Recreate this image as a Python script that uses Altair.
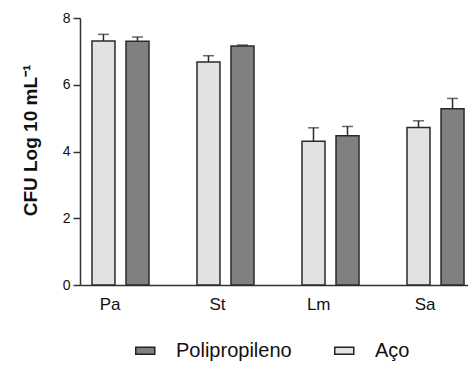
import altair as alt
import pandas as pd

categories = ["Pa", "St", "Lm", "Sa"]
materials = ["Aço", "Polipropileno"]
aco_values = [7.31, 6.68, 4.31, 4.72]
aco_errors = [0.20, 0.19, 0.40, 0.20]
pp_values = [7.30, 7.16, 4.47, 5.28]
pp_errors = [0.13, 0.03, 0.28, 0.31]

rows = []
for i, c in enumerate(categories):
    rows.append({"cat": c, "mat": "Aço", "value": aco_values[i], "top": aco_values[i] + aco_errors[i]})
    rows.append({"cat": c, "mat": "Polipropileno", "value": pp_values[i], "top": pp_values[i] + pp_errors[i]})
df = pd.DataFrame(rows)

FONT = "Liberation Sans"

x_enc = alt.X("cat:N", sort=categories, title=None,
              scale=alt.Scale(paddingInner=0.457, paddingOuter=0.114, range=[0, 396]),
              axis=alt.Axis(labelAngle=0, labelFontSize=17, labelColor="#111", labelFont=FONT,
                            ticks=False, tickSize=0, labelPadding=19,
                            domainColor="#333", domainWidth=1.5))
xo_enc = alt.XOffset("mat:N", sort=materials,
                     scale=alt.Scale(paddingInner=0.324, paddingOuter=0))
y_scale = alt.Scale(domain=[0, 8], nice=False)

bars = alt.Chart(df).mark_bar(stroke="#2a2a2a", strokeWidth=1.5).encode(
    x=x_enc,
    xOffset=xo_enc,
    y=alt.Y("value:Q", scale=y_scale, title="CFU Log 10 mL⁻¹",
            axis=alt.Axis(values=[0, 2, 4, 6, 8], grid=False, tickSize=7, tickColor="#333",
                          tickWidth=1.5, labelFontSize=14, labelColor="#111", labelFont=FONT,
                          labelPadding=3, domainColor="#333", domainWidth=1.5,
                          titleFont=FONT, titleFontSize=19, titleFontWeight="bold",
                          titleColor="#111", titleAngle=270, titleX=-44, titleY=122,
                          titleAlign="center", titleBaseline="alphabetic")),
    color=alt.Color("mat:N", sort=["Polipropileno", "Aço"],
                    scale=alt.Scale(domain=["Polipropileno", "Aço"], range=["#808080", "#e2e2e2"]),
                    legend=alt.Legend(title=None, orient="none", legendX=50, legendY=322,
                                      direction="horizontal",
                                      symbolType="M-0.5,-0.37H1.5V0.37H-0.5Z",
                                      symbolSize=361, symbolStrokeColor="#222",
                                      symbolStrokeWidth=1.5, symbolOpacity=1,
                                      labelFontSize=20, labelFont=FONT, labelColor="#111",
                                      labelOffset=25, columnPadding=37)),
)

rules = alt.Chart(df).mark_rule(color="#2a2a2a", strokeWidth=1.5).encode(
    x=alt.X("cat:N", sort=categories),
    xOffset=alt.XOffset("mat:N", sort=materials),
    y=alt.Y("value:Q", scale=y_scale),
    y2="top:Q",
)

caps = alt.Chart(df).mark_tick(color="#2a2a2a", thickness=1.5, size=11).encode(
    x=alt.X("cat:N", sort=categories),
    xOffset=alt.XOffset("mat:N", sort=materials),
    y=alt.Y("top:Q", scale=y_scale),
)

chart = alt.layer(rules, bars, caps).properties(
    width=388, height=267,
    autosize=alt.AutoSizeParams(type="none"),
    padding={"left": 72, "top": 10, "right": 0, "bottom": 77},
).configure_view(stroke=None)

chart.save("out.html", embed_options={"renderer": "svg", "actions": False})
